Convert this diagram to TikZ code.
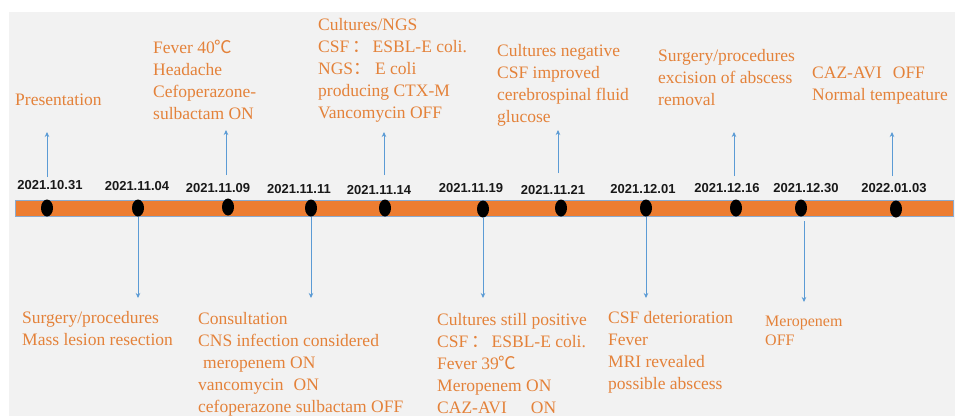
\documentclass[tikz,border=0pt]{standalone}
\usepackage{fontspec}
\setmainfont{Liberation Serif}
\newfontfamily\evtfont{Liberation Serif}
\newfontfamily\datefont{Liberation Sans}
\newfontfamily\cjk{Noto Sans CJK SC}
\usetikzlibrary{shapes.geometric,arrows.meta}
\definecolor{txtor}{RGB}{228,130,58}
\definecolor{baror}{RGB}{237,125,49}
\definecolor{arrblue}{RGB}{91,155,213}
\definecolor{bgray}{RGB}{242,242,242}
\definecolor{barline}{RGB}{140,170,205}
\begin{document}
\begin{tikzpicture}[x=1pt,y=-1pt,
 evt/.style={anchor=north west, inner sep=0pt, align=left, text=txtor, font=\evtfont\fontsize{17.5}{22}\selectfont},
 evtsmall/.style={evt, font=\evtfont\fontsize{16}{19}\selectfont},
 datelbl/.style={inner sep=0pt, font=\datefont\bfseries\fontsize{13}{13}\selectfont, text=black!90},
 dot/.style={ellipse, fill=black, minimum width=12pt, minimum height=17pt, inner sep=0pt},
 arr/.style={draw=arrblue, line width=0.7pt, -{Stealth[length=5pt,width=4.5pt]}},
]
\useasboundingbox (0,0) rectangle (955,416);
\fill[white] (0,0) rectangle (955,416);
\fill[bgray] (9,12) rectangle (955,416);
\draw[fill=baror, draw=barline, line width=0.5pt] (15,200) rectangle (953,216);

% dots
\node[dot] (d1) at (47,208) {};
\node[dot] (d2) at (138,208) {};
\node[dot] (d3) at (228,207) {};
\node[dot] (d4) at (311,208) {};
\node[dot] (d5) at (385,208) {};
\node[dot] (d6) at (483,209) {};
\node[dot] (d7) at (561,208) {};
\node[dot] (d8) at (646,208) {};
\node[dot] (d9) at (736,208) {};
\node[dot] (d10) at (801,208) {};
\node[dot] (d11) at (896,209) {};

% dates
\node[datelbl] (t1) at (50,185) {2021.10.31};
\node[datelbl] (t2) at (137,186) {2021.11.04};
\node[datelbl] (t3) at (218,188) {2021.11.09};
\node[datelbl] (t4) at (299,189) {2021.11.11};
\node[datelbl] (t5) at (379,190) {2021.11.14};
\node[datelbl] (t6) at (471,188) {2021.11.19};
\node[datelbl] (t7) at (553,190) {2021.11.21};
\node[datelbl] (t8) at (643,189) {2021.12.01};
\node[datelbl] (t9) at (727,188) {2021.12.16};
\node[datelbl] (t10) at (806,188) {2021.12.30};
\node[datelbl] (t11) at (894,188) {2022.01.03};

% top events
\node[evt] (e1) at (15,94) {Presentation};
\node[evt] (e3) at (153,40) {Fever 40{\cjk ℃}\\Headache\\Cefoperazone-\\sulbactam ON};
\node[evt] (e5) at (318,18) {Cultures/NGS\\CSF\,{\cjk ：}\,ESBL-E coli.\\NGS{\cjk ：} E coli\\producing CTX-M\\Vancomycin OFF};
\node[evt] (e7) at (497,44) {Cultures negative\\CSF improved\\cerebrospinal fluid\\glucose};
\node[evt] (e9) at (658,49) {Surgery/procedures\\excision of abscess\\removal};
\node[evt] (e11) at (812,67) {CAZ-AVI\hspace{11pt}OFF\\Normal tempeature};

% bottom events
\node[evt] (e2) at (22,311) {Surgery/procedures\\Mass lesion resection};
\node[evt] (e4) at (198,312) {Consultation\\CNS infection considered\\\hspace*{5pt}meropenem ON\\vancomycin\hspace{10pt}ON\\cefoperazone sulbactam OFF};
\node[evt] (e6) at (437,313) {Cultures still positive\\CSF\,{\cjk ：}\,ESBL-E coli.\\Fever 39{\cjk ℃}\\Meropenem ON\\CAZ-AVI\hspace{24pt}ON};
\node[evt] (e8) at (608,311) {CSF deterioration\\Fever\\MRI revealed\\possible abscess};
\node[evtsmall] (e10) at (765,316) {Meropenem\\OFF};

% arrow end points
\coordinate (u1a) at (47,177);  \coordinate (u1b) at (47,132);
\coordinate (u3a) at (226,175); \coordinate (u3b) at (226,130);
\coordinate (u5a) at (384,175); \coordinate (u5b) at (384,132);
\coordinate (u7a) at (558,173); \coordinate (u7b) at (558,130);
\coordinate (u9a) at (734,176); \coordinate (u9b) at (734,132);
\coordinate (u11a) at (892,176); \coordinate (u11b) at (892,132);
\coordinate (w2a) at (138,217); \coordinate (w2b) at (138,298);
\coordinate (w4a) at (311,217); \coordinate (w4b) at (311,298);
\coordinate (w6a) at (483,217); \coordinate (w6b) at (483,298);
\coordinate (w8a) at (646,217); \coordinate (w8b) at (646,298);
\coordinate (w10a) at (804,221); \coordinate (w10b) at (804,302);

\foreach \p in {u1,u3,u5,u7,u9,u11,w2,w4,w6,w8,w10}
  \draw[arr] (\p a) -- (\p b);
\end{tikzpicture}
\end{document}
